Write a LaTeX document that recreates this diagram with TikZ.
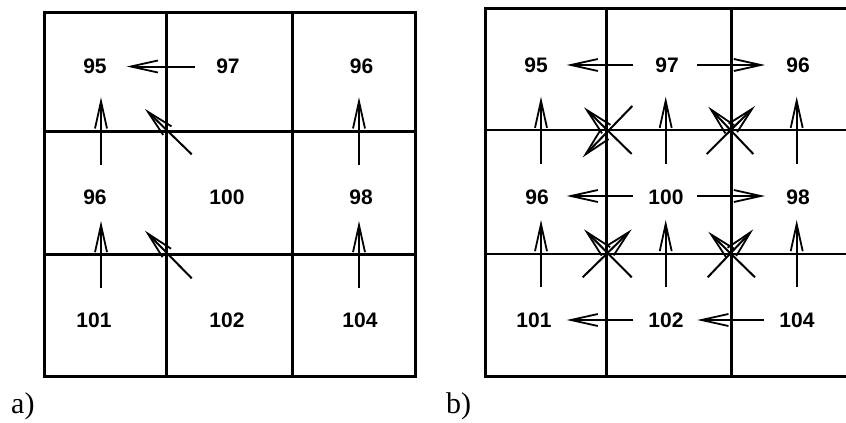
\documentclass[tikz,border=0pt]{standalone}
\usepackage{fontspec}
\newfontfamily\numfont{Liberation Sans}
\newfontfamily\capfont{Liberation Serif}
\usetikzlibrary{arrows.meta}
\begin{document}
\begin{tikzpicture}[x=1pt,y=-1pt,
  gridline/.style={line width=3pt},
  thingrid/.style={line width=2.2pt},
  num/.style={font=\numfont\bfseries\fontsize{21}{21}\selectfont, inner sep=0pt},
  captxt/.style={font=\capfont\fontsize{30}{30}\selectfont, inner sep=0pt, anchor=base west},
  arr/.style={line width=2pt, -{Straight Barb[length=27pt,width=12pt,line width=1.8pt]}}]
\useasboundingbox (0,0) rectangle (846,423);
\clip (0,0) rectangle (846,423);

% ---------- grid a ----------
\draw[gridline] (44.3,12) rectangle (415.7,376.7);
\draw[gridline] (166.7,12) -- (166.7,376.7) (292.3,12) -- (292.3,376.7)
  (44.3,131.7) -- (415.7,131.7) (44.3,254.3) -- (415.7,254.3);

% ---------- grid b ----------
\draw[gridline] (485.7,8.3) rectangle (857,376);
\draw[gridline] (606.7,8.3) -- (606.7,376) (731.7,8.3) -- (731.7,376);
\draw[thingrid] (485.7,130) -- (857,130) (485.7,254) -- (857,254);

% ---------- numbers a ----------
\node[num] (A11) at (95,66.5) {95};
\node[num] (A12) at (228,66.5) {97};
\node[num] (A13) at (361.5,66.5) {96};
\node[num] (A21) at (95,197) {96};
\node[num] (A22) at (227,197) {100};
\node[num] (A23) at (361,197) {98};
\node[num] (A31) at (94,320.5) {101};
\node[num] (A32) at (227,320.5) {102};
\node[num] (A33) at (360,320.5) {104};

% ---------- numbers b ----------
\node[num] (B11) at (536,65) {95};
\node[num] (B12) at (667,65) {97};
\node[num] (B13) at (798,65) {96};
\node[num] (B21) at (537,197) {96};
\node[num] (B22) at (666,197) {100};
\node[num] (B23) at (798,197) {98};
\node[num] (B31) at (534,320) {101};
\node[num] (B32) at (666,320) {102};
\node[num] (B33) at (797,320) {104};

% ---------- captions ----------
\node[captxt] (capa) at (11,413) {a)};
\node[captxt] (capb) at (446,413) {b)};

% ---------- arrows a ----------
\draw[arr] ([shift={(-33,0)}]A12.center) -- ([shift={(31.7,0)}]A11.center);
\draw[arr] ([shift={(6,-32)}]A21.center) -- ([shift={(6,30.8)}]A11.center);
\draw[arr] ([shift={(-2,-32)}]A23.center) -- ([shift={(-2.5,30.8)}]A13.center);
\draw[arr] ([shift={(7,-32.2)}]A31.center) -- ([shift={(6,24)}]A21.center);
\draw[arr] ([shift={(-1,-32.2)}]A33.center) -- ([shift={(-2,24)}]A23.center);
\draw[arr] ([shift={(-35.3,-42.7)}]A22.center) -- ([shift={(50,42.5)}]A11.center);
\draw[arr] ([shift={(-35.3,-42.2)}]A32.center) -- ([shift={(50,33.7)}]A21.center);

% ---------- arrows b ----------
\draw[arr] ([shift={(-33.7,0)}]B12.center) -- ([shift={(30.7,0)}]B11.center);
\draw[arr] ([shift={(30.3,0)}]B12.center) -- ([shift={(-33,0)}]B13.center);
\draw[arr] ([shift={(-32.7,-1)}]B22.center) -- ([shift={(29.7,-1)}]B21.center);
\draw[arr] ([shift={(31.3,-1)}]B22.center) -- ([shift={(-33,-1)}]B23.center);
\draw[arr] ([shift={(-32.7,0)}]B32.center) -- ([shift={(32.7,0)}]B31.center);
\draw[arr] ([shift={(-33,0)}]B33.center) -- ([shift={(31.3,0)}]B32.center);
\draw[arr] ([shift={(4,-33)}]B21.center) -- ([shift={(5,31.7)}]B11.center);
\draw[arr] ([shift={(-0.3,-33)}]B22.center) -- ([shift={(-1.3,31.7)}]B12.center);
\draw[arr] ([shift={(-1.3,-33)}]B23.center) -- ([shift={(-1.3,31.7)}]B13.center);
\draw[arr] ([shift={(7,-32.7)}]B31.center) -- ([shift={(4,23)}]B21.center);
\draw[arr] ([shift={(-0.3,-32.7)}]B32.center) -- ([shift={(-0.3,23)}]B22.center);
\draw[arr] ([shift={(-0.3,-32.7)}]B33.center) -- ([shift={(-1.3,23)}]B23.center);
% diagonals b
\draw[arr] ([shift={(-34.3,-43)}]B22.center) -- ([shift={(48,42.3)}]B11.center);
\draw[arr] ([shift={(-34.7,41)}]B12.center) -- ([shift={(45.7,-39.7)}]B21.center);
\draw[arr] ([shift={(40.7,-43)}]B22.center) -- ([shift={(-43,41)}]B13.center);
\draw[arr] ([shift={(-44.7,-43)}]B23.center) -- ([shift={(41.3,41.7)}]B12.center);
\draw[arr] ([shift={(-34.3,-42.7)}]B32.center) -- ([shift={(47,32.3)}]B21.center);
\draw[arr] ([shift={(48.7,-42.7)}]B31.center) -- ([shift={(-34.3,32.3)}]B22.center);
\draw[arr] ([shift={(-42,-42.7)}]B33.center) -- ([shift={(42.3,34.7)}]B22.center);
\draw[arr] ([shift={(41.7,-42.7)}]B32.center) -- ([shift={(-44.7,32.3)}]B23.center);
\end{tikzpicture}
\end{document}
